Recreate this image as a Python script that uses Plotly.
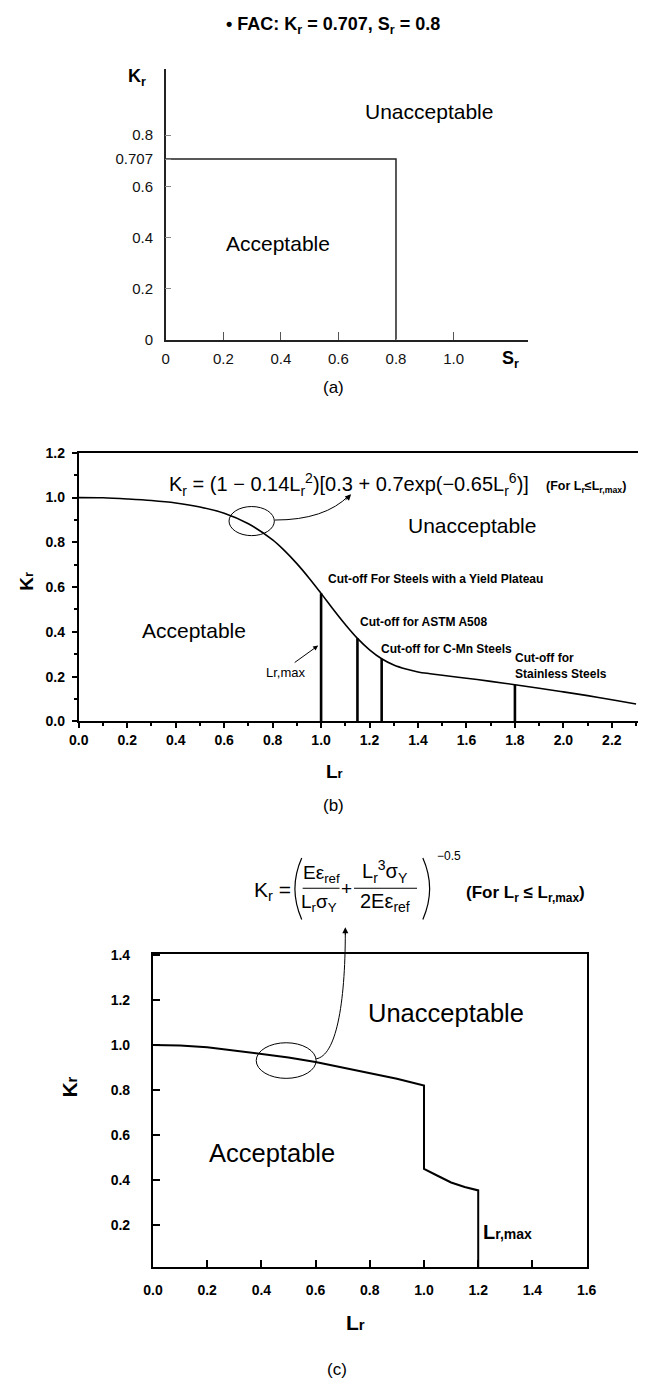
import plotly.graph_objects as go

W, H = 648, 1391
FONT = "Arial, Liberation Sans, sans-serif"

# ---------------- data ----------------
# Panel (a): FAC rectangle
fac_sr = [0.0, 0.8, 0.8]
fac_kr = [0.707, 0.707, 0.0]
a_xticks = [0, 0.2, 0.4, 0.6, 0.8, 1.0]
a_xticklabels = ["0", "0.2", "0.4", "0.6", "0.8", "1.0"]
a_yticks = [0, 0.2, 0.4, 0.6, 0.707, 0.8]
a_yticklabels = ["0", "0.2", "0.4", "0.6", "0.707", "0.8"]

# Panel (b): Option 1 FAC curve
lr_b = [0.0, 0.1, 0.2, 0.3, 0.4, 0.5, 0.6, 0.7, 0.8, 0.85, 0.9, 0.95, 1.0, 1.05,
        1.1, 1.15, 1.2, 1.25, 1.3, 1.35, 1.4, 1.45, 1.5, 1.6, 1.7, 1.8, 1.9,
        2.0, 2.1, 2.2, 2.3]
kr_b = [1.0, 0.999, 0.994, 0.987, 0.976, 0.958, 0.930, 0.883, 0.811, 0.762,
        0.705, 0.641, 0.572, 0.501, 0.433, 0.371, 0.320, 0.280, 0.252, 0.234,
        0.221, 0.213, 0.206, 0.193, 0.179, 0.164, 0.148, 0.132, 0.115, 0.097,
        0.078]
cutoff_lr = [1.0, 1.15, 1.25, 1.8]
cutoff_kr = [0.572, 0.371, 0.280, 0.164]
b_ticks_x = [0.0, 0.2, 0.4, 0.6, 0.8, 1.0, 1.2, 1.4, 1.6, 1.8, 2.0, 2.2]
b_ticks_y = [0.0, 0.2, 0.4, 0.6, 0.8, 1.0, 1.2]

# Panel (c): Option 3 type curve
lr_c = [0.0, 0.1, 0.2, 0.3, 0.4, 0.5, 0.6, 0.7, 0.8, 0.9, 1.0, 1.0, 1.05, 1.1,
        1.15, 1.2, 1.2]
kr_c = [1.0, 0.998, 0.99, 0.976, 0.96, 0.945, 0.925, 0.90, 0.875, 0.85, 0.82,
        0.45, 0.42, 0.39, 0.37, 0.355, 0.0]
c_ticks_x = [0.0, 0.2, 0.4, 0.6, 0.8, 1.0, 1.2, 1.4, 1.6]
c_ticks_y = [0.2, 0.4, 0.6, 0.8, 1.0, 1.2, 1.4]


def px(x):
    return x / W


def py(y):
    return 1 - y / H


def ann(text, x, y, size, bold=False, xanchor="center", yanchor="middle",
        angle=0, align="center"):
    return dict(text=text, x=px(x), y=py(y), xref="paper", yref="paper",
                showarrow=False, xanchor=xanchor, yanchor=yanchor,
                textangle=angle, align=align, borderpad=0,
                font=dict(family=FONT, size=size, color="black",
                          weight="bold" if bold else "normal"))


fig = go.Figure()

# ---- traces ----
fig.add_trace(go.Scatter(x=fac_sr, y=fac_kr, mode="lines",
                         line=dict(color="#222", width=1.5),
                         xaxis="x", yaxis="y", hoverinfo="skip"))

fig.add_trace(go.Scatter(x=lr_b, y=kr_b, mode="lines",
                         line=dict(color="black", width=1.6, shape="spline"),
                         xaxis="x2", yaxis="y2", hoverinfo="skip"))
cx, cy = [], []
for l, k in zip(cutoff_lr, cutoff_kr):
    cx += [l, l, None]
    cy += [0, k, None]
fig.add_trace(go.Scatter(x=cx, y=cy, mode="lines",
                         line=dict(color="black", width=2.6),
                         xaxis="x2", yaxis="y2", hoverinfo="skip"))

fig.add_trace(go.Scatter(x=lr_c, y=kr_c, mode="lines",
                         line=dict(color="black", width=2),
                         xaxis="x3", yaxis="y3", hoverinfo="skip"))

# ---- axes ----
tf_a = dict(family=FONT, size=15, color="#111")
tf_b = dict(family=FONT, size=14, color="black", weight="bold")

layout = dict(
    width=W, height=H, margin=dict(l=0, r=0, t=0, b=0),
    paper_bgcolor="white", plot_bgcolor="white", showlegend=False,
    # panel (a)
    xaxis=dict(domain=[px(160.7), px(534)], range=[0, 1.257], anchor="y",
               showline=True, linecolor="#222", linewidth=1.5, mirror=False,
               ticks="inside", ticklen=8, tickwidth=1, tickcolor="#555",
               tickvals=a_xticks, ticktext=a_xticklabels, tickfont=tf_a,
               showgrid=False, zeroline=False, ticklabelstandoff=4),
    yaxis=dict(domain=[py(335.7), py(61.7)], range=[0, 1.059], anchor="x",
               showline=True, linecolor="#222", linewidth=1.5, mirror=False,
               ticks="inside", ticklen=6, tickwidth=1, tickcolor="#888",
               tickvals=a_yticks, ticktext=a_yticklabels, tickfont=tf_a,
               showgrid=False, zeroline=False, ticklabelstandoff=8),
    # panel (b)
    xaxis2=dict(domain=[px(71), 1.0], range=[0, 2.308], anchor="y2",
                showline=True, linecolor="black", linewidth=2, mirror=True,
                ticks="outside", ticklen=5, tickwidth=1.5, tickcolor="black",
                tickvals=b_ticks_x, tickformat=".1f", tickfont=tf_b,
                minor=dict(ticks="outside", ticklen=3, tickwidth=1.5,
                           tickcolor="black", dtick=0.1, tick0=0),
                showgrid=False, zeroline=False),
    yaxis2=dict(domain=[py(721.7), py(450)], range=[0, 1.2], anchor="x2",
                showline=True, linecolor="black", linewidth=2, mirror=False,
                ticks="outside", ticklen=5, tickwidth=1.5, tickcolor="black",
                tickvals=b_ticks_y, tickformat=".1f", tickfont=tf_b,
                minor=dict(ticks="outside", ticklen=3, tickwidth=1.5,
                           tickcolor="black", dtick=0.1, tick0=0),
                showgrid=False, zeroline=False, ticklabelstandoff=4),
    # panel (c)
    xaxis3=dict(domain=[px(147.5), px(595)], range=[0, 1.6], anchor="y3",
                showline=True, linecolor="black", linewidth=2, mirror=True,
                ticks="inside", ticklen=7, tickwidth=1.5, tickcolor="black",
                tickvals=c_ticks_x, tickformat=".1f", tickfont=tf_b,
                showgrid=False, zeroline=False, ticklabelstandoff=9),
    yaxis3=dict(domain=[py(1273.7), py(956.7)], range=[0.015, 1.405],
                anchor="x3",
                showline=True, linecolor="black", linewidth=2, mirror=True,
                ticks="inside", ticklen=7, tickwidth=1.5, tickcolor="black",
                tickvals=c_ticks_y, tickformat=".1f", tickfont=tf_b,
                showgrid=False, zeroline=False, ticklabelstandoff=18),
)
fig.update_layout(**layout)

# ---- annotations ----
anns = []
# (a)
anns.append(ann("• FAC: K<sub>r</sub> = 0.707, S<sub>r</sub> = 0.8", 333, 18, 18, bold=True))
anns.append(ann("K<sub>r</sub>", 131, 70, 18, bold=True))
anns.append(ann("S<sub>r</sub>", 516, 356, 18, bold=True))
anns.append(ann("Unacceptable", 432, 105, 21))
anns.append(ann("Acceptable", 277, 238, 21))
anns.append(ann("(a)", 334, 384, 17))

# (b)
anns.append(ann("K<sub>r</sub> = (1 − 0.14L<sub>r</sub><sup>2</sup>)[0.3 + 0.7exp(−0.65L<sub>r</sub><sup>6</sup>)]",
                163, 482, 20, xanchor="left"))
anns.append(ann("(For L<sub>r</sub>≤L<sub>r,max</sub>)", 552, 485, 12.5, bold=True, xanchor="left"))
anns.append(ann("Unacceptable", 477, 524, 21))
anns.append(ann("Acceptable", 190, 630, 21))
anns.append(ann("Cut-off For Steels with a Yield Plateau", 326.7, 578, 12, bold=True, xanchor="left"))
anns.append(ann("Cut-off for ASTM A508", 360, 621, 12, bold=True, xanchor="left"))
anns.append(ann("Cut-off for C-Mn Steels", 381.5, 648, 12, bold=True, xanchor="left"))
anns.append(ann("Cut-off for<br>Stainless Steels", 520, 666, 12, bold=True, xanchor="left", align="left"))
anns.append(ann("Lr,max", 285, 672, 13))
anns.append(ann("<b>K</b><span style='font-size:13px'><b>r</b></span>", 17, 580, 19, angle=-90))
anns.append(ann("<b>L</b><span style='font-size:13px'><b>r</b></span>", 335, 772, 19))
anns.append(ann("(b)", 334, 807, 17))
# Lr,max arrow (b)
anns.append(dict(x=px(318), y=py(645), xref="paper", yref="paper", text="",
                 showarrow=True, ax=-25, ay=18, arrowhead=2, arrowsize=1,
                 arrowwidth=1, arrowcolor="black", standoff=0))
# curved arrow head (b)
anns.append(dict(x=px(352), y=py(492), xref="paper", yref="paper", text="",
                 showarrow=True, ax=-7, ay=7, arrowhead=2, arrowsize=1.2,
                 arrowwidth=1, arrowcolor="black", standoff=0))

# (c) formula
anns.append(ann("K<sub>r</sub> =", 251, 893, 21, xanchor="left"))
anns.append(ann("Eε<sub>ref</sub>", 321, 876, 19))
anns.append(ann("L<sub>r</sub>σ<sub>Y</sub>", 319, 905, 19))
anns.append(ann("+", 347.5, 891, 19))
anns.append(ann("L<sub>r</sub><sup>3</sup>σ<sub>Y</sub>", 387, 874, 20))
anns.append(ann("2Eε<sub>ref</sub>", 387, 905, 20))
anns.append(ann("−0.5", 440, 858, 12, xanchor="left"))
anns.append(ann("(For L<sub>r</sub> ≤ L<sub>r,max</sub>)", 470, 896, 17, bold=True, xanchor="left"))
# curved arrow head (c)
anns.append(dict(x=px(346), y=py(930), xref="paper", yref="paper", text="",
                 showarrow=True, ax=0, ay=9, arrowhead=2, arrowsize=1.2,
                 arrowwidth=1, arrowcolor="black", standoff=0))
anns.append(ann("Unacceptable", 450, 1017, 25.5))
anns.append(ann("Acceptable", 270, 1158, 25.5))
anns.append(ann("<b>L</b><span style='font-size:14px'><b>r,max</b></span>", 487, 1238, 20, xanchor="left"))
anns.append(ann("<b>K</b><span style='font-size:15px'><b>r</b></span>", 61, 1092, 21, angle=-90))
anns.append(ann("<b>L</b><span style='font-size:15px'><b>r</b></span>", 357, 1330, 21))
anns.append(ann("(c)", 337, 1377, 17))

fig.update_layout(annotations=anns)


def P(x, y):
    return f"{px(x):.5f},{py(y):.5f}"


shapes = []
# ellipse (b)
shapes.append(dict(type="circle", xref="x2", yref="y2", x0=0.62, x1=0.807,
                   y0=0.83, y1=0.96, line=dict(color="black", width=1)))
# curved arrow (b)
shapes.append(dict(type="path", xref="paper", yref="paper",
                   path=f"M {P(273.3, 518)} Q {P(325, 518)} {P(350, 493)}",
                   line=dict(color="black", width=1)))
# ellipse (c)
shapes.append(dict(type="circle", xref="x3", yref="y3", x0=0.381, x1=0.602,
                   y0=0.852, y1=1.01, line=dict(color="black", width=1)))
# curved arrow (c)
shapes.append(dict(type="path", xref="paper", yref="paper",
                   path=f"M {P(316, 1063)} C {P(336, 1060)} {P(346, 1010)} {P(346, 934)}",
                   line=dict(color="black", width=1)))
# formula (c) fraction bars and parentheses
shapes.append(dict(type="line", xref="paper", yref="paper",
                   x0=px(302), x1=px(340), y0=py(890.5), y1=py(890.5),
                   line=dict(color="black", width=1)))
shapes.append(dict(type="line", xref="paper", yref="paper",
                   x0=px(355), x1=px(420), y0=py(890.5), y1=py(890.5),
                   line=dict(color="black", width=1)))
shapes.append(dict(type="path", xref="paper", yref="paper",
                   path=f"M {P(301, 860)} Q {P(287, 891)} {P(301, 922)}",
                   line=dict(color="black", width=1.2)))
shapes.append(dict(type="path", xref="paper", yref="paper",
                   path=f"M {P(426, 860)} Q {P(440, 891)} {P(426, 922)}",
                   line=dict(color="black", width=1.2)))
fig.update_layout(shapes=shapes)

fig.write_html("out.html")
